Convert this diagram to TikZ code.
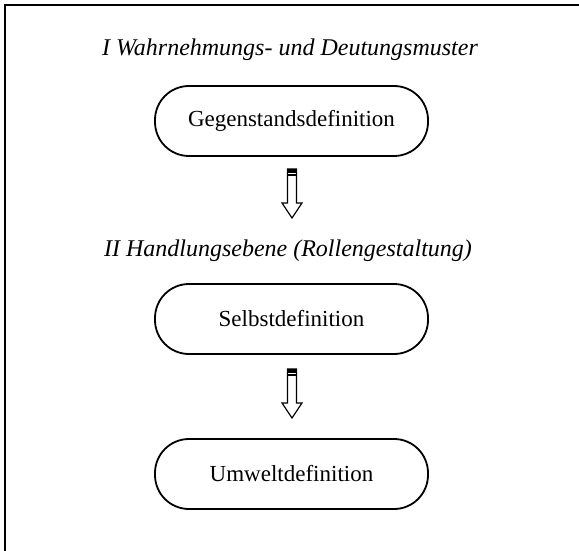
\documentclass[tikz,border=0pt]{standalone}
\usepackage{fontspec}
\setmainfont{Liberation Serif}
\usepackage{tikz}
\usetikzlibrary{positioning}
\tikzset{stufe/.style = {draw, line width = 0.9pt, rounded corners = 17pt,
    minimum width = 136.5pt, minimum height = 35pt, inner sep = 0,
    font = \fontsize{11.5}{14}\selectfont}}
\tikzset{ebene/.style = {font = \fontsize{12}{14}\selectfont\itshape}}
\newcommand{\hohlpfeil}[1]{%
    \draw [line width = 0.6pt] (#1) ++(-4.5, 0) -- ++(0, 34) -- ++(-5.5, 0) -- ++(10, 15)
        -- ++(10, -15) -- ++(-5.5, 0) -- ++(0, -34) -- cycle;
    \fill (#1) ++(-4.5, 0) rectangle ++(9, 4);
    \draw [line width = 0.6pt] (#1) ++(-4.5, 6) -- ++(9, 0);}

\begin{document}
\begin{tikzpicture}[x = 0.5pt, y = -0.5pt]
    \useasboundingbox (0, 0) rectangle (579, 551);
    \draw [line width = 0.8pt] (5, 600) -- (5, 5) -- (600, 5);

    \node [ebene] (titel1) at (290, 50) {I Wahrnehmungs- und Deutungsmuster};
    \node [stufe] (gegen) at (291.5, 121) {Gegenstandsdefinition};

    \coordinate (pfeil1) at (292, 169);
    \hohlpfeil{pfeil1}

    \node [ebene] (titel2) at (288, 251) {II Handlungsebene (Rollengestaltung)};
    \node [stufe] (selbst) at (291.5, 319) {Selbstdefinition};

    \coordinate (pfeil2) at (292, 369);
    \hohlpfeil{pfeil2}

    \node [stufe] (umwelt) at (291.5, 474) {Umweltdefinition};
\end{tikzpicture}
\end{document}
